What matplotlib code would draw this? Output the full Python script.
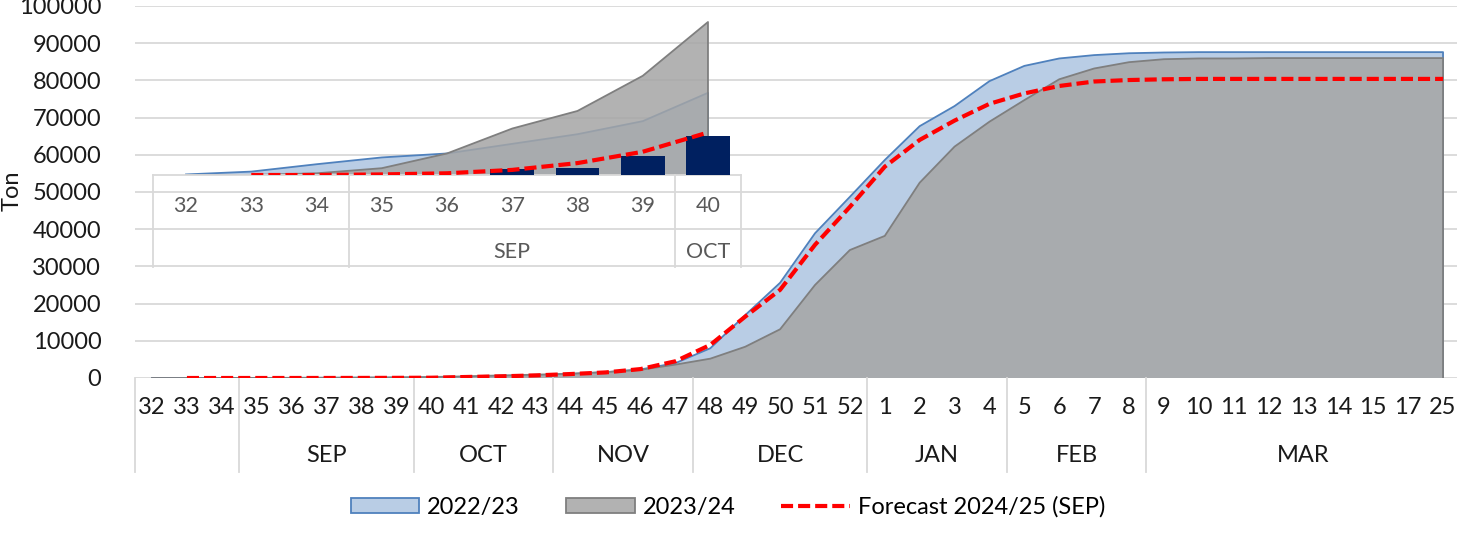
import numpy as np
import matplotlib
matplotlib.use("Agg")
import matplotlib.pyplot as plt
from matplotlib.patches import Patch
from matplotlib.lines import Line2D

# week categories of the season
weeks = [32, 33, 34, 35, 36, 37, 38, 39, 40, 41, 42, 43, 44, 45, 46, 47, 48, 49, 50, 51, 52,
         1, 2, 3, 4, 5, 6, 7, 8, 9, 10, 11, 12, 13, 14, 15, 17, 25]
month_names = ["", "SEP", "OCT", "NOV", "DEC", "JAN", "FEB", "MAR"]
month_sizes = [3, 5, 4, 4, 5, 4, 4, 9]

# cumulative tonnage
s2223 = [1, 6, 19, 31, 38, 55, 72, 95, 145, 300, 500, 750, 1100, 1550, 2300, 4000, 8000,
         16900, 25600, 38900, 48700, 58600, 67700, 73100, 79800, 83900, 85900, 86800, 87300,
         87500, 87600, 87600, 87600, 87600, 87600, 87600, 87600, 87600]
s2324 = [0, 0, 3, 12, 38, 82, 113, 175, 270, 450, 700, 900, 1150, 1600, 2200, 3600, 5200,
         8400, 13100, 25000, 34400, 38200, 52500, 62200, 68900, 74700, 80300, 83200, 84900,
         85700, 85900, 85900, 86000, 86000, 86000, 86000, 86000, 86000]
forecast = [np.nan, 0, 0, 1, 3, 9, 21, 41, 75, 270, 450, 700, 1070, 1500, 2400, 4500, 8900,
            16500, 23700, 35800, 46000, 56800, 64000, 69200, 73700, 76500, 78500, 79700, 80100,
            80300, 80400, 80400, 80400, 80400, 80400, 80400, 80400, 80400]

# zoomed inset: first weeks only
inset_n = 9
inset_month_names = ["", "SEP", "OCT"]
inset_month_sizes = [3, 5, 1]
actual_2425 = [0, 0, 0, 0, 0, 10, 12, 34, 69]

BLUE_FILL = "#B9CDE5"
BLUE_EDGE = "#4F81BD"
GRAY_FILL = "#A5A5A5"
GRAY_EDGE = "#7F7F7F"
RED = "#FF0000"
NAVY = "#002060"
GRID = "#D9D9D9"
RED_LW = 3.0
RED_DASH = (2.9, 1.2)

W, H = 1457, 539
fig = plt.figure(figsize=(W / 100, H / 100), dpi=100)

MAIN_FONT = "Lato"
NARROW = ["Liberation Sans Narrow", "Lato"]


def px_axes(left, right, top, bottom):
    return fig.add_axes([left / W, 1 - bottom / H, (right - left) / W, (bottom - top) / H])


def draw_area(ax, x, y, fill, edge, alpha=1.0, z=1):
    x = np.asarray(x, float)
    y = np.asarray(y, float)
    ax.fill_between(x, 0, y, facecolor=fill, alpha=alpha, lw=0, zorder=z)
    ax.plot(np.r_[x, x[-1]], np.r_[y, 0], color=edge, lw=1.3, zorder=z + 0.1)


def category_table(ax, n_sizes, names, y_line_bot, y_week, y_month, labels, color, size):
    tr = ax.get_xaxis_transform()
    bounds = np.r_[0, np.cumsum(n_sizes)] - 0.5
    for b in bounds:
        ax.plot([b, b], [0, y_line_bot], transform=tr, color=GRID, lw=1.3, clip_on=False)
    for i, lab in enumerate(labels):
        ax.text(i, y_week, str(lab), transform=tr, ha="center", va="center",
                fontsize=size, color=color, family=NARROW)
    for k, name in enumerate(names):
        c = (bounds[k] + bounds[k + 1]) / 2
        ax.text(c, y_month, name, transform=tr, ha="center", va="center",
                fontsize=size, color=color, family=MAIN_FONT)


# main chart
ax = px_axes(134.6, 1457, 6, 378)
x = np.arange(len(weeks))
draw_area(ax, x, s2223, BLUE_FILL, BLUE_EDGE, z=1)
draw_area(ax, x, s2324, GRAY_FILL, GRAY_EDGE, alpha=0.85, z=2)
ax.plot(x, forecast, color=RED, lw=RED_LW, dashes=RED_DASH, dash_capstyle="butt", zorder=4)
ax.set_xlim(-0.5, 37.4)
ax.set_ylim(0, 100000)
ax.set_yticks(np.arange(0, 100001, 10000))
ax.set_xticks([])
ax.yaxis.grid(True, color=GRID, lw=1.3)
ax.set_axisbelow(True)
for s in ax.spines.values():
    s.set_visible(False)
ax.tick_params(axis="y", length=0, pad=24, labelsize=17)
for t in ax.get_yticklabels():
    t.set_family(MAIN_FONT)
    t.set_color("#1a1a1a")
hh = 372.0
category_table(ax, month_sizes, month_names, (378 - 472) / hh, (378 - 408) / hh,
               (378 - 456) / hh, weeks, "#1a1a1a", 17)
fig.text(12 / W, 1 - 191 / H, "Ton", rotation=90, ha="center", va="center",
         fontsize=17, family=MAIN_FONT, color="#1a1a1a")

# inset
ai = px_axes(153.4, 740.6, 5, 175)
ai.patch.set_alpha(0)
xi = np.arange(inset_n)
draw_area(ai, xi, s2223[:inset_n], BLUE_FILL, BLUE_EDGE, z=1)
draw_area(ai, xi, s2324[:inset_n], GRAY_FILL, GRAY_EDGE, alpha=0.85, z=2)
ai.bar(xi, actual_2425, width=0.67, color=NAVY, zorder=3)
ai.plot(xi, forecast[:inset_n], color=RED, lw=RED_LW, dashes=RED_DASH, dash_capstyle="butt", zorder=4)
ai.set_xlim(-0.5, inset_n - 0.5)
ai.set_ylim(0, 300)
ai.set_xticks([])
ai.set_yticks([])
for k, s in ai.spines.items():
    s.set_visible(k == "bottom")
ai.spines["bottom"].set_color(GRID)
ai.spines["bottom"].set_linewidth(1.3)
hi = 170.0
category_table(ai, inset_month_sizes, inset_month_names, (175 - 267) / hi, (175 - 206) / hi,
               (175 - 252) / hi, weeks[:inset_n], "#595959", 15.5)

handles = [
    Patch(facecolor=BLUE_FILL, edgecolor=BLUE_EDGE, lw=1.3),
    Patch(facecolor="#B2B2B2", edgecolor=GRAY_EDGE, lw=1.3),
    Line2D([], [], color=RED, lw=RED_LW, dashes=RED_DASH, dash_capstyle="butt"),
]
labels = ["2022/23", "2023/24", "Forecast 2024/25 (SEP)"]
fig.legend(handles, labels, loc="center", bbox_to_anchor=(0.4997, 1 - 507 / H), ncol=3,
           frameon=False, handlelength=2.9, handleheight=0.55, handletextpad=0.34,
           columnspacing=1.95, prop={"family": MAIN_FONT, "size": 17})

fig.savefig("out.png", dpi=100)
